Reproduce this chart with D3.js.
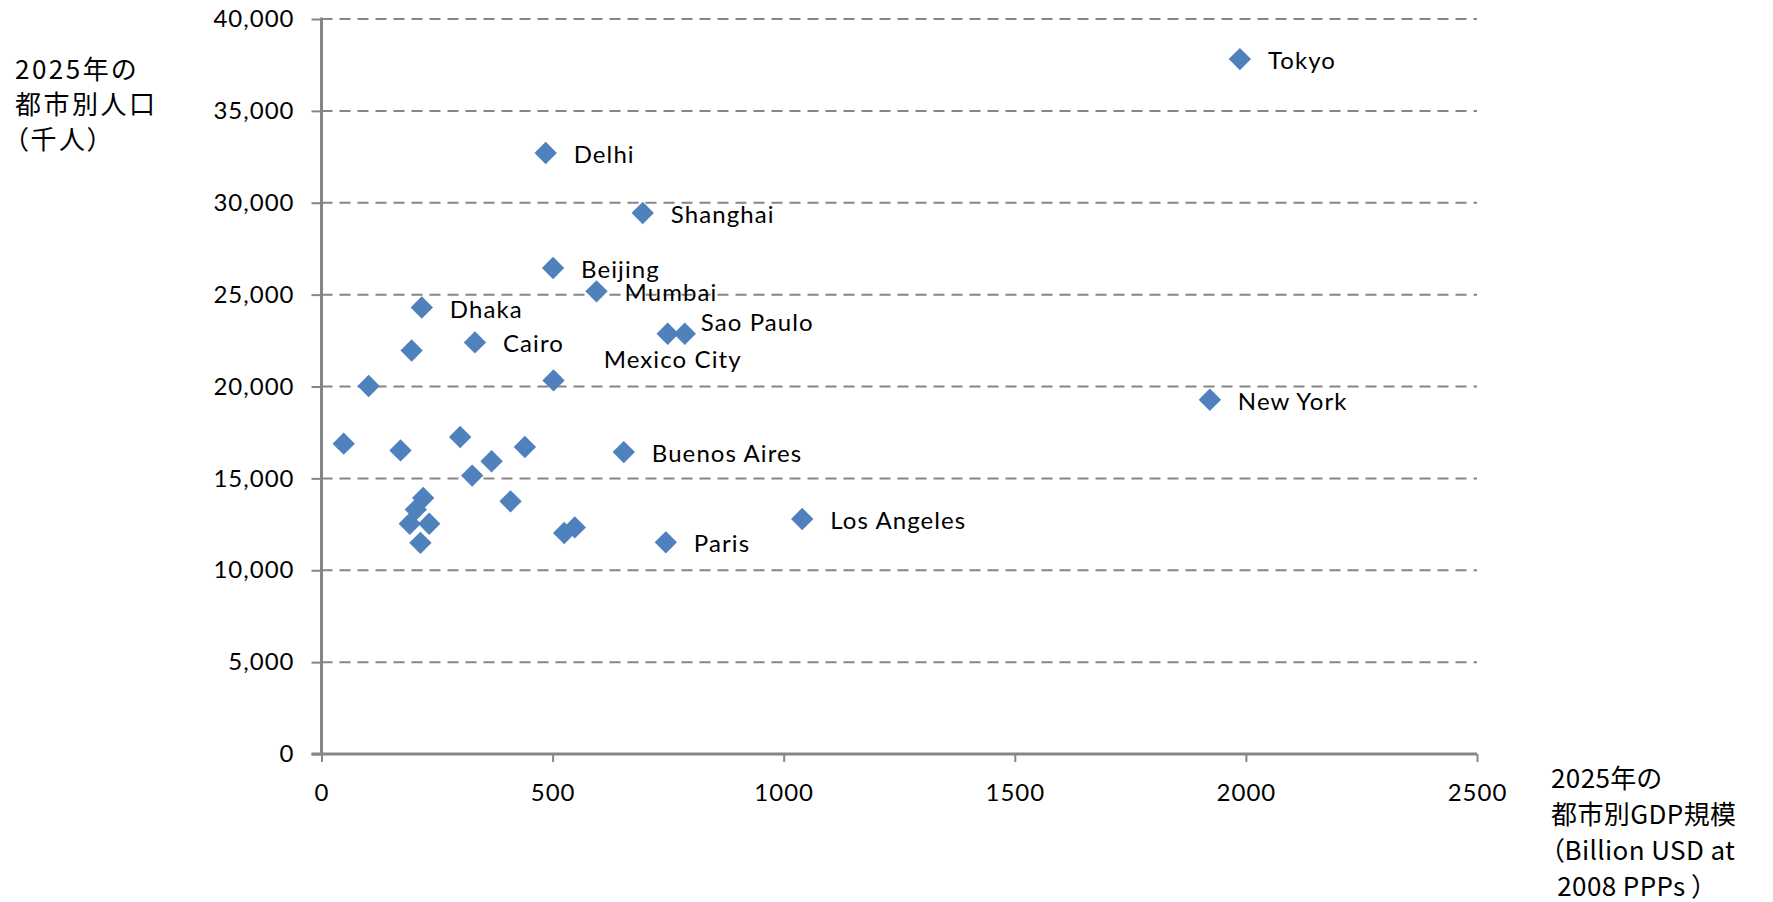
<!DOCTYPE html>
<html>
<head>
<meta charset="utf-8">
<script src="https://cdn.jsdelivr.net/npm/d3@7"></script>
<style>
  html, body { margin: 0; padding: 0; background: #fff; }
  svg { display: block; }
</style>
</head>
<body>
<svg id="chart" width="1773" height="902"></svg>
<script>
// City names (empty where the point carries no label)
const cities = [
  "Tokyo", "Delhi", "Shanghai", "Beijing", "Mumbai", "Dhaka", "Cairo",
  "Mexico City", "Sao Paulo", "", "", "", "New York",
  "", "", "", "", "Buenos Aires", "", "", "", "", "", "", "", "", "", "",
  "Paris", "Los Angeles"
];
// 2025 city GDP (billion USD at 2008 PPPs)
const gdp = [
  1987, 485, 695, 501, 595, 217, 332,
  749, 786, 195, 102, 502, 1922,
  48, 171, 300, 440, 654, 368, 326, 220, 204, 409, 191, 233, 214, 525, 548,
  745, 1040
];
// 2025 city population (thousands)
const population = [
  37820, 32710, 29440, 26450, 25180, 24300, 22400,
  22870, 22870, 21960, 20030, 20330, 19280,
  16890, 16520, 17250, 16710, 16430, 15930, 15150, 13930, 13300, 13750, 12530, 12530, 11490, 12030, 12330,
  11520, 12790
];

const xTicks = [0, 500, 1000, 1500, 2000, 2500];
const yTicks = [0, 5000, 10000, 15000, 20000, 25000, 30000, 35000, 40000];

const yTitleLines = ["2025年の", "都市別人口", "（千人）"];
const xTitleLines = ["2025年の", "都市別GDP規模", "（Billion USD at", " 2008 PPPs ）"];

// Label placement tweaks (pixels from the marker); others sit to the right
const labelShift = { "Sao Paulo": [16, -9], "Mexico City": [-64, 28] };
const defaultShift = [28, 4];

const svg = d3.select("#chart");
const axisColor = "#868686";
const markColor = "#4F81BD";
const textFont = "Lato, 'Open Sans', sans-serif";
const cjkFont = "'Noto Sans CJK JP', 'Noto Sans', sans-serif";

const x = d3.scaleLinear().domain([0, 2500]).range([321.5, 1477]);
const y = d3.scaleLinear().domain([0, 40000]).range([754, 19]);

// Horizontal dashed gridlines
svg.append("g")
  .selectAll("line")
  .data(yTicks.filter(t => t > 0))
  .join("line")
  .attr("x1", x(0)).attr("x2", x(2500))
  .attr("y1", d => y(d)).attr("y2", d => y(d))
  .attr("stroke", axisColor)
  .attr("stroke-width", 2)
  .attr("stroke-dasharray", "11,7");

// Y axis
const yAxis = d3.axisLeft(y)
  .tickValues(yTicks)
  .tickFormat(d3.format(","))
  .tickSize(10)
  .tickPadding(17);
const gy = svg.append("g").attr("transform", `translate(${x(0)},0)`).call(yAxis);
gy.select(".domain").attr("stroke", axisColor).attr("stroke-width", 3)
  .attr("d", `M0,${y(40000) - 1.5}V${y(0)}`);
gy.selectAll(".tick line").attr("stroke", axisColor).attr("stroke-width", 2);
gy.selectAll(".tick text")
  .attr("fill", "#000")
  .style("font-family", textFont)
  .style("font-size", "24px")
  .style("letter-spacing", "1px");

// X axis
const xAxis = d3.axisBottom(x)
  .tickValues(xTicks)
  .tickFormat(d3.format("d"))
  .tickSize(8)
  .tickPadding(22);
const gx = svg.append("g").attr("transform", `translate(0,${y(0)})`).call(xAxis);
gx.select(".domain").attr("stroke", axisColor).attr("stroke-width", 3)
  .attr("d", `M${x(0) - 10},0H${x(2500)}`);
gx.selectAll(".tick line").attr("stroke", axisColor).attr("stroke-width", 2);
gx.selectAll(".tick text")
  .attr("fill", "#000")
  .style("font-family", textFont)
  .style("font-size", "24px")
  .style("letter-spacing", "1px");

// Points
const points = cities.map((name, i) => ({ name, gdp: gdp[i], pop: population[i] }));
const diamond = d3.symbol().type(d3.symbolSquare).size(250);

svg.append("g")
  .selectAll("path")
  .data(points)
  .join("path")
  .attr("d", diamond)
  .attr("transform", d => `translate(${x(d.gdp)},${y(d.pop)}) rotate(45)`)
  .attr("fill", markColor);

// City labels
svg.append("g")
  .selectAll("text")
  .data(points.filter(d => d.name))
  .join("text")
  .attr("x", d => x(d.gdp) + (labelShift[d.name] || defaultShift)[0])
  .attr("y", d => y(d.pop) + (labelShift[d.name] || defaultShift)[1])
  .attr("dominant-baseline", "middle")
  .style("font-family", textFont)
  .style("font-size", "24px")
  .style("letter-spacing", "1.1px")
  .attr("fill", "#000")
  .text(d => d.name);

// Multi-line axis titles, one text element each
function titleBlock(lines, left, top, size, spacing, lineGap) {
  const t = svg.append("text")
    .attr("x", left)
    .attr("y", top)
    .attr("dominant-baseline", "middle")
    .style("font-family", cjkFont)
    .style("font-size", size + "px")
    .style("font-feature-settings", "'palt'")
    .style("letter-spacing", spacing + "px")
    .style("white-space", "pre")
    .attr("fill", "#000");
  t.selectAll("tspan")
    .data(lines)
    .join("tspan")
    .attr("x", left)
    .attr("dy", (d, i) => i === 0 ? 0 : lineGap)
    .text(d => d);
}
titleBlock(yTitleLines, 15, 72, 26, 2.5, 35);
titleBlock(xTitleLines, 1551, 781, 26, 0.4, 36);
</script>
</body>
</html>
